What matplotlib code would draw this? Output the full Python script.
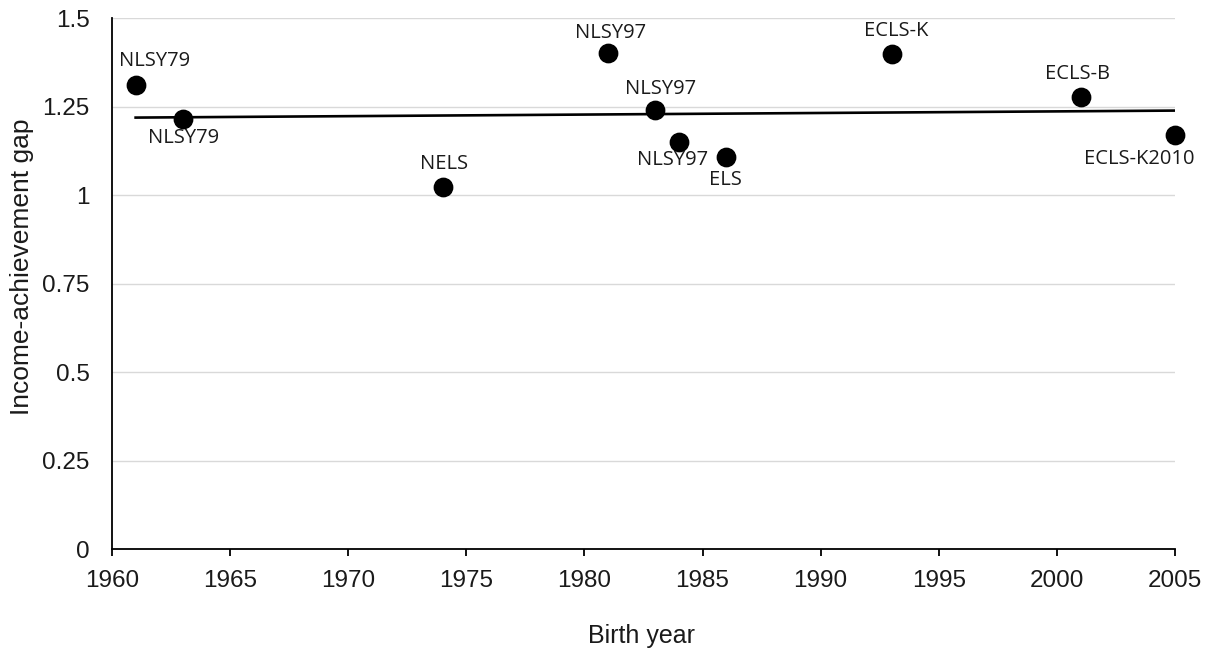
import numpy as np
import matplotlib
matplotlib.use("Agg")
import matplotlib.pyplot as plt

# Data
years = [1961, 1963, 1974, 1981, 1983, 1984, 1986, 1993, 2001, 2005]
gaps = [1.311, 1.214, 1.022, 1.401, 1.241, 1.149, 1.109, 1.398, 1.278, 1.170]
labels = ["NLSY79", "NLSY79", "NELS", "NLSY97", "NLSY97", "NLSY97", "ELS",
          "ECLS-K", "ECLS-B", "ECLS-K2010"]
x_ticks = [1960, 1965, 1970, 1975, 1980, 1985, 1990, 1995, 2000, 2005]
y_ticks = [0, 0.25, 0.5, 0.75, 1, 1.25, 1.5]
y_tick_labels = ["0", "0.25", "0.5", "0.75", "1", "1.25", "1.5"]

# label offsets in pixels (layout only)
label_offsets = [(19, 24), (1, -19), (1, 23), (2, 20), (5, 21), (-6, -18),
                 (-1, -23), (5, 23), (-3, 23), (-36, -24)]

fig = plt.figure(figsize=(12.16, 6.54), dpi=100)
ax = fig.add_axes([112/1216, 1-549/654, (1175-112)/1216, (549-18.3)/654])

ax.set_xlim(1960, 2005)
ax.set_ylim(0, 1.5)
ax.set_yticks(y_ticks)
ax.set_yticklabels(y_tick_labels)
ax.set_xticks(x_ticks)

ax.grid(axis="y", color="#d9d9d9", linewidth=1.0)
ax.set_axisbelow(True)
for s in ["top", "right"]:
    ax.spines[s].set_visible(False)
ax.spines["left"].set_color("black")
ax.spines["bottom"].set_color("black")
ax.spines["left"].set_linewidth(1.3)
ax.spines["bottom"].set_linewidth(1.3)

ax.tick_params(axis="y", length=0, pad=16, labelsize=17.5, labelcolor="#1a1a1a")
ax.tick_params(axis="x", length=5, width=1.3, direction="out", pad=10,
               labelsize=17.5, labelcolor="#1a1a1a")
for t in ax.get_xticklabels() + ax.get_yticklabels():
    t.set_fontfamily("Liberation Sans")

# trend line (linear fit)
coef = np.polyfit(years, gaps, 1)
xs = np.array([min(years), max(years)])
ax.plot(xs, np.polyval(coef, xs), color="black", linewidth=1.9, zorder=3)

ax.scatter(years, gaps, s=175, color="black", zorder=4, clip_on=False)

for x, y, lab, off in zip(years, gaps, labels, label_offsets):
    ax.annotate(lab, (x, y), xytext=off, textcoords="offset pixels",
                ha="center", va="center", fontsize=14.5, family="Open Sans",
                color="#1a1a1a", zorder=5, annotation_clip=False)

ax.set_xlabel("Birth year", fontsize=18, family="Liberation Sans",
              color="#1a1a1a", labelpad=26)
ax.xaxis.set_label_coords(642/1216, 1 - 636/654, transform=fig.transFigure)
ax.xaxis.label.set_va("center")

fig.text(22/1216, 1 - 267/654, "Income-achievement gap", rotation=90,
         ha="center", va="center", fontsize=19, family="Liberation Sans",
         color="#1a1a1a")

fig.savefig("out.png", dpi=100)
